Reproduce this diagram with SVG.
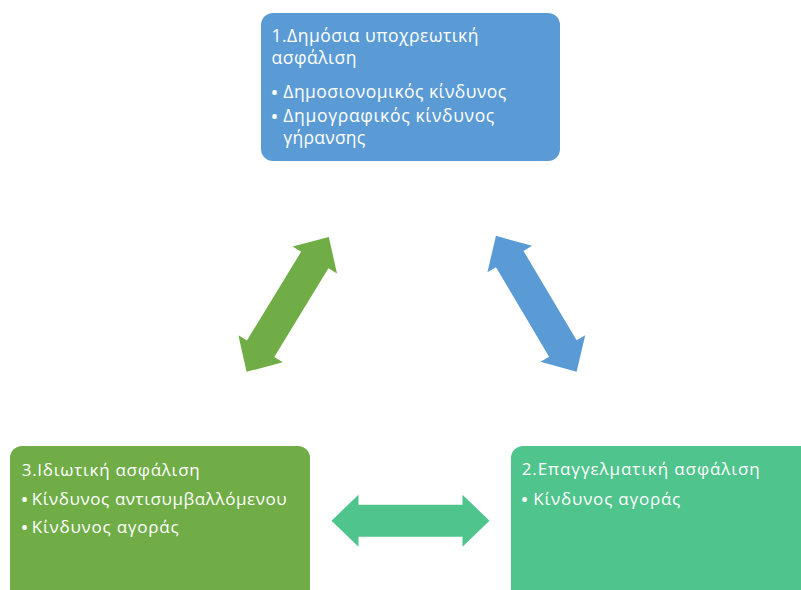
<svg xmlns="http://www.w3.org/2000/svg" width="801" height="590" viewBox="0 0 801 590">
<style>
.t{font-family:"Open Sans","Noto Sans","DejaVu Sans",sans-serif;font-size:17.5px;fill:#ffffff}
.s{font-size:17px}
.b{font-family:"Open Sans","Noto Sans","DejaVu Sans",sans-serif;font-size:16px;font-weight:bold;fill:#ffffff}
.blue{fill:#5B9BD5}
.green{fill:#70AD47}
.teal{fill:#4FC48D}
</style>
<defs>
<path id="dbl" d="M -79,0 L -52,-26 L -52,-16 L 52,-16 L 52,-26 L 79,0 L 52,26 L 52,16 L -52,16 L -52,26 Z"/>
</defs>
<rect width="801" height="590" fill="#ffffff"/>
<g id="node1">
<rect class="blue" x="261" y="13" width="299" height="148" rx="12"/>
<text class="t" x="271.5" y="42" textLength="207" lengthAdjust="spacing">1.Δημόσια υποχρεωτική</text>
<text class="t" x="271.5" y="64" textLength="85" lengthAdjust="spacing">ασφάλιση</text>
<text class="b" x="271.5" y="98">•</text><text class="t" x="283.3" y="98" textLength="223" lengthAdjust="spacing">Δημοσιονομικός κίνδυνος</text>
<text class="b" x="271.5" y="122">•</text><text class="t" x="283.3" y="122" textLength="211" lengthAdjust="spacing">Δημογραφικός κίνδυνος</text>
<text class="t" x="283.3" y="144" textLength="82" lengthAdjust="spacing">γήρανσης</text>
</g>
<g id="node2">
<rect class="teal" x="511" y="446" width="310" height="170" rx="12"/>
<text class="t s" x="521.7" y="475" textLength="238" lengthAdjust="spacing">2.Επαγγελματική ασφάλιση</text>
<text class="b" x="521.5" y="505">•</text><text class="t s" x="533.3" y="505" textLength="147" lengthAdjust="spacing">Κίνδυνος αγοράς</text>
</g>
<g id="node3">
<rect class="green" x="10" y="446" width="300" height="170" rx="12"/>
<text class="t s" x="21.7" y="476" textLength="178" lengthAdjust="spacing">3.Ιδιωτική ασφάλιση</text>
<text class="b" x="21.5" y="505">•</text><text class="t s" x="31.7" y="505" textLength="255" lengthAdjust="spacing">Κίνδυνος αντισυμβαλλόμενου</text>
<text class="b" x="21.5" y="533">•</text><text class="t s" x="31.7" y="533" textLength="147" lengthAdjust="spacing">Κίνδυνος αγοράς</text>
</g>
<g id="connectors">
<use href="#dbl" class="green" transform="translate(287.7,304.4) rotate(-58.6)"/>
<use href="#dbl" class="blue" transform="translate(536.3,303.8) rotate(59.3)"/>
<use href="#dbl" class="teal" transform="translate(410.5,520.7)"/>
</g>
</svg>
